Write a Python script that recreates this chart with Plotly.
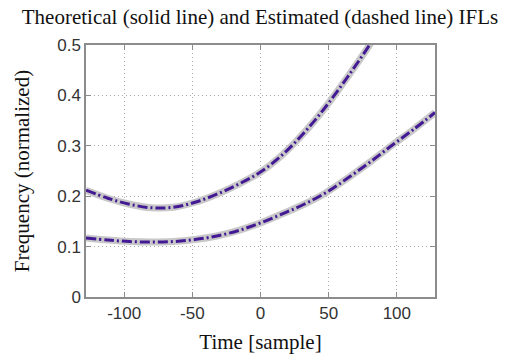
import plotly.graph_objects as go

t = [-128, -112, -96, -80, -64, -48, -32, -16, 0, 16, 32, 48, 64, 80, 96, 112, 128]
upper = [0.212, 0.196, 0.184, 0.177, 0.178, 0.188, 0.204, 0.224, 0.248, 0.282, 0.326, 0.378, 0.437, 0.500, 0.568, 0.640, 0.716]
lower = [0.117, 0.113, 0.110, 0.109, 0.110, 0.114, 0.121, 0.132, 0.147, 0.165, 0.184, 0.207, 0.236, 0.267, 0.300, 0.332, 0.366]

x_ticks = [-100, -50, 0, 50, 100]
y_ticks = [0, 0.1, 0.2, 0.3, 0.4, 0.5]

fig = go.Figure()
for ys in (upper, lower):
    fig.add_trace(go.Scatter(x=t, y=ys, mode="lines", line=dict(color="#c8c8c8", width=7, shape="spline"), showlegend=False, hoverinfo="skip"))
    fig.add_trace(go.Scatter(x=t, y=ys, mode="lines", line=dict(color="#431a94", width=3, shape="spline", dash="10px,3px,2px,3px"), showlegend=False))

axis_common = dict(showline=True, linecolor="#8c8c8c", linewidth=1.5, mirror="ticks", ticks="inside", ticklen=5, tickcolor="#8c8c8c",
                   showgrid=True, gridcolor="#a8a8a8", griddash="1px,3px", gridwidth=1, zeroline=False, automargin=False,
                   tickfont=dict(family="Liberation Sans, Arial", size=17, color="#333"))

serif = "Liberation Serif, Times New Roman"
fig.update_layout(
    width=520, height=356,
    margin=dict(l=86, r=85, t=45, b=59),
    paper_bgcolor="white", plot_bgcolor="white",
    title=dict(text="Theoretical (solid line) and Estimated (dashed line) IFLs", x=0.5, xanchor="center", y=0.952, yanchor="middle",
               font=dict(family=serif, size=21, color="#111")),
    xaxis=dict(range=[-128, 128], tickvals=x_ticks, ticktext=[str(v) for v in x_ticks],
               title=dict(text="Time [sample]", font=dict(family=serif, size=21, color="#111"), standoff=12),
               **axis_common),
    yaxis=dict(range=[0, 0.5], tickvals=y_ticks, ticktext=["0", "0.1", "0.2", "0.3", "0.4", "0.5"],
               title=dict(text="Frequency (normalized)", font=dict(family=serif, size=21, color="#111"), standoff=22),
               **axis_common),
)

fig.write_html("out.html")
